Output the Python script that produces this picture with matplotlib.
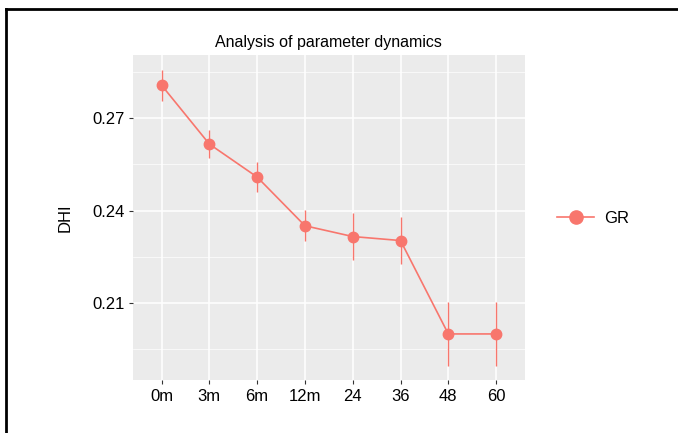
import numpy as np
import matplotlib.pyplot as plt
from matplotlib.lines import Line2D

plt.rcParams['font.family'] = ['Liberation Sans', 'DejaVu Sans']

labels = ['0m', '3m', '6m', '12m', '24', '36', '48', '60']
dhi = [0.2807, 0.2616, 0.2509, 0.2351, 0.2316, 0.2303, 0.2000, 0.2000]
err = [0.0050, 0.0045, 0.0050, 0.0050, 0.0075, 0.0075, 0.0104, 0.0104]
series = 'GR'
RED = '#F8766D'

fig = plt.figure(figsize=(6.78, 4.33), dpi=100)
ax = fig.add_axes([0.196, 0.122, 0.578, 0.751])
ax.set_facecolor('#EBEBEB')
x = np.arange(len(labels))

ax.errorbar(x, dhi, yerr=err, fmt='none', ecolor=RED, elinewidth=1.0, capsize=0, zorder=3)
ax.plot(x, dhi, color=RED, lw=1.2, marker='o', ms=7.5, mec=RED, zorder=4)

ax.set_xlim(-0.6, len(labels) - 0.4)
ax.set_ylim(0.185, 0.2905)
ax.set_xticks(x)
ax.set_xticklabels(labels)
ax.set_yticks([0.21, 0.24, 0.27])
ax.set_yticklabels(['0.21', '0.24', '0.27'])
ax.set_yticks([0.195, 0.225, 0.255, 0.285], minor=True)
ax.grid(True, which='major', color='white', lw=1.1)
ax.grid(True, which='minor', axis='y', color='white', lw=0.5)
ax.set_axisbelow(True)
for s in ax.spines.values():
    s.set_visible(False)
ax.tick_params(which='major', length=3, width=0.8, color='#333333', labelsize=12, pad=3)
ax.tick_params(which='minor', length=0)
ax.set_ylabel('DHI', fontsize=12, labelpad=14)
ax.set_title('Analysis of parameter dynamics', fontsize=11.5, pad=6)

h = Line2D([], [], color=RED, lw=1.2, marker='o', ms=9.5)
fig.legend([h], [series], loc='center left', bbox_to_anchor=(0.80, 0.495),
           frameon=False, fontsize=12, handlelength=2.2, handletextpad=0.6)

# outer frame lines at top and left
fig.add_artist(Line2D([0.009, 1.0], [0.979, 0.979], color='black', lw=2, transform=fig.transFigure))
fig.add_artist(Line2D([0.009, 0.009], [0.0, 0.979], color='black', lw=2, transform=fig.transFigure))

fig.savefig('out.png', dpi=100)
